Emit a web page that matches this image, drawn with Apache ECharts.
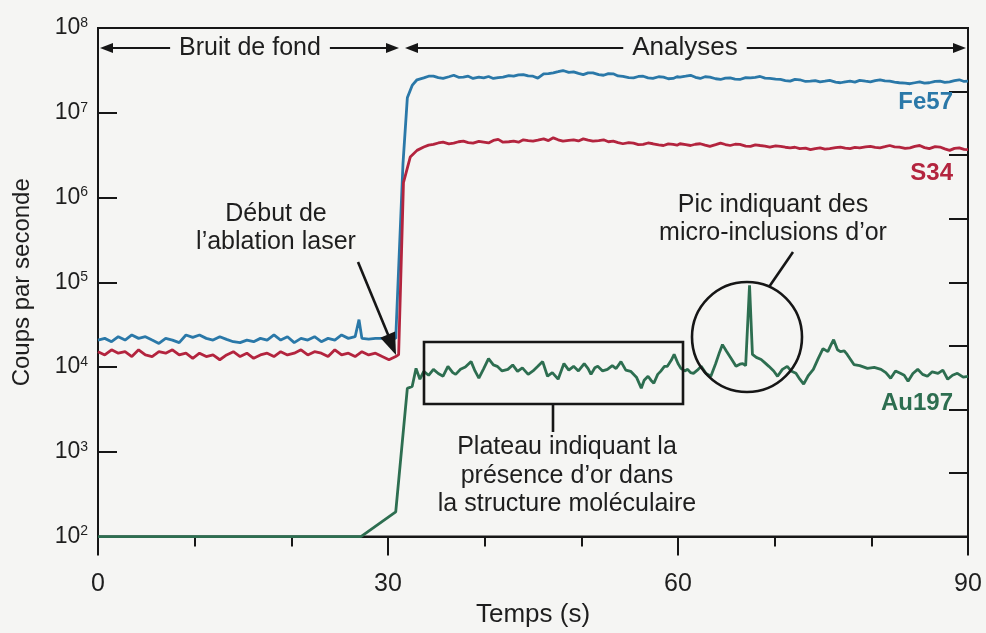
<!DOCTYPE html>
<html><head><meta charset="utf-8">
<script src="https://cdn.jsdelivr.net/npm/echarts@6/dist/echarts.min.js"></script>
<style>html,body{margin:0;padding:0;background:#f5f5f3;}#c{width:986px;height:633px;}</style>
</head><body><div id="c"></div>
<script>
// ---- data (time in s, counts per second) ----
const xMajorTicks = [0, 30, 60, 90];
const yDecades = [2, 3, 4, 5, 6, 7, 8];
const seriesNames = ['Fe57', 'S34', 'Au197'];

const fe57 = [
[0,20800],[0.7,21800],[1.4,19900],[2.1,22800],[2.8,20800],[3.5,23900],[4.2,21800],[4.9,22800],[5.6,20800],[6.3,19000],
[7.0,21800],[7.7,20800],[8.4,19400],[9.1,23900],[9.8,22400],[10.5,23900],[11.2,21800],[11.9,20800],[12.6,22800],[13.3,21200],
[14.0,19900],[14.7,19400],[15.4,20800],[16.1,19900],[16.8,21800],[17.5,20800],[18.2,23900],[18.9,20800],[19.6,22800],[20.3,19400],
[21.0,21800],[21.7,20800],[22.4,22800],[23.1,19900],[23.8,21800],[24.5,20800],[25.2,23900],[25.9,21800],[26.6,22800],[27.0,36300],
[27.3,21800],[28.0,21400],[28.7,21800],[29.4,21800],[30.1,22200],[30.8,21800],
[31.0,23000],[31.55,2.5e6],[32.0,1.5e7],[32.5,2.1e7],[33.0,2.45e7],[33.7,2.58e7],
[34.2,2.70e7],[34.7,2.70e7],[35.2,2.60e7],[35.7,2.54e7],[36.3,2.66e7],[36.8,2.77e7],[37.3,2.62e7],[37.8,2.63e7],[38.3,2.70e7],[38.8,2.54e7],
[39.4,2.64e7],[39.9,2.58e7],[40.4,2.68e7],[40.9,2.54e7],[41.4,2.60e7],[41.9,2.63e7],[42.5,2.74e7],[43.0,2.70e7],[43.5,2.80e7],[44.0,2.82e7],
[44.5,2.72e7],[45.0,2.70e7],[45.5,2.56e7],[46.1,2.88e7],[46.6,2.90e7],[47.1,2.96e7],[47.6,3.05e7],[48.1,3.15e7],[48.7,3.00e7],[49.2,3.04e7],
[49.7,2.92e7],[50.2,2.82e7],[50.7,2.95e7],[51.2,2.96e7],[51.8,2.82e7],[52.3,2.77e7],[52.8,2.90e7],[53.3,2.88e7],[53.8,2.72e7],[54.3,2.68e7],
[54.9,2.60e7],[55.4,2.58e7],[55.9,2.68e7],[56.4,2.70e7],[56.9,2.58e7],[57.4,2.54e7],[58.0,2.66e7],[58.5,2.63e7],[59.0,2.52e7],[59.5,2.54e7],
[59.9,2.66e7],[60.2,2.63e7],[60.8,2.70e7],[61.3,2.77e7],[61.8,2.62e7],[62.3,2.54e7],[62.8,2.66e7],[63.3,2.63e7],[63.9,2.52e7],[64.4,2.47e7],
[64.9,2.56e7],[65.4,2.58e7],[65.9,2.50e7],[66.4,2.47e7],[67.0,2.60e7],[67.5,2.58e7],[68.0,2.62e7],[68.5,2.68e7],[69.0,2.56e7],[69.5,2.54e7],
[70.1,2.50e7],[70.6,2.47e7],[71.1,2.40e7],[71.6,2.36e7],[72.1,2.48e7],[72.6,2.45e7],[73.2,2.34e7],[73.7,2.36e7],[74.2,2.40e7],[74.7,2.32e7],
[75.2,2.36e7],[75.7,2.41e7],[76.3,2.30e7],[76.8,2.26e7],[77.3,2.32e7],[77.8,2.36e7],[78.3,2.30e7],[78.8,2.41e7],[79.4,2.36e7],[79.9,2.32e7],
[80.4,2.40e7],[80.9,2.45e7],[81.4,2.38e7],[81.9,2.36e7],[82.4,2.30e7],[82.9,2.26e7],[83.5,2.24e7],[84.0,2.20e7],[84.5,2.26e7],[85.0,2.32e7],
[85.5,2.24e7],[86.0,2.26e7],[86.6,2.34e7],[87.1,2.36e7],[87.6,2.28e7],[88.1,2.32e7],[88.6,2.40e7],[89.1,2.45e7],[89.6,2.34e7],[90.0,2.36e7]
];

const s34 = [
[0,15200],[0.7,13900],[1.4,16000],[2.1,14600],[2.8,15200],[3.5,13300],[4.2,16000],[4.9,13900],[5.6,13300],[6.3,15200],
[7.0,14600],[7.7,16000],[8.4,13900],[9.1,14600],[9.8,12700],[10.5,14600],[11.2,13300],[11.9,13900],[12.6,12200],[13.3,13900],
[14.0,15200],[14.7,13300],[15.4,14600],[16.1,12700],[16.8,13900],[17.5,14600],[18.2,13300],[18.9,15200],[19.6,13900],[20.3,14600],
[21.0,16000],[21.7,13900],[22.4,15200],[23.1,14600],[23.8,13300],[24.5,16000],[25.2,13900],[25.9,14600],[26.6,13300],[27.3,15200],
[28.0,13900],[28.7,14600],[29.4,13300],[30.1,12200],[30.8,13300],
[31.1,14000],[31.6,1.5e6],[32.3,3.0e6],[33.0,3.6e6],[33.7,3.94e6],
[34.2,4.15e6],[34.7,4.23e6],[35.2,4.40e6],[35.7,4.50e6],[36.3,4.30e6],[36.8,4.38e6],[37.3,4.55e6],[37.8,4.62e6],[38.3,4.45e6],[38.8,4.38e6],
[39.4,4.60e6],[39.9,4.50e6],[40.4,4.40e6],[40.9,4.71e6],[41.4,4.85e6],[41.9,4.50e6],[42.5,4.55e6],[43.0,4.62e6],[43.5,4.50e6],[44.0,4.80e6],
[44.5,4.70e6],[45.0,4.62e6],[45.5,4.75e6],[46.1,4.92e6],[46.6,4.70e6],[47.1,5.06e6],[47.6,4.80e6],[48.1,4.62e6],[48.7,4.72e6],[49.2,4.80e6],
[49.7,4.65e6],[50.2,4.92e6],[50.7,4.75e6],[51.2,4.62e6],[51.8,4.70e6],[52.3,4.80e6],[52.8,4.55e6],[53.3,4.62e6],[53.8,4.45e6],[54.3,4.31e6],
[54.9,4.45e6],[55.4,4.38e6],[55.9,4.20e6],[56.4,4.23e6],[56.9,4.40e6],[57.4,4.31e6],[58.0,4.18e6],[58.5,4.11e6],[59.0,4.30e6],[59.5,4.23e6],
[59.9,4.15e6],[60.2,4.31e6],[60.8,4.20e6],[61.3,4.11e6],[61.8,4.25e6],[62.3,4.31e6],[62.8,4.15e6],[63.3,4.01e6],[63.9,4.20e6],[64.4,4.38e6],
[64.9,4.22e6],[65.4,4.11e6],[65.9,4.25e6],[66.4,4.23e6],[67.0,4.05e6],[67.5,4.01e6],[68.0,4.18e6],[68.5,4.11e6],[69.0,4.05e6],[69.5,3.94e6],
[70.1,4.08e6],[70.6,4.01e6],[71.1,3.92e6],[71.6,3.86e6],[72.1,3.92e6],[72.6,3.77e6],[73.2,3.82e6],[73.7,3.67e6],[74.2,3.78e6],[74.7,3.86e6],
[75.2,3.72e6],[75.7,3.77e6],[76.3,3.88e6],[76.8,3.94e6],[77.3,3.82e6],[77.8,3.77e6],[78.3,3.90e6],[78.8,3.86e6],[79.4,3.95e6],[79.9,4.01e6],
[80.4,3.90e6],[80.9,3.86e6],[81.4,3.98e6],[81.9,4.11e6],[82.4,3.96e6],[82.9,3.94e6],[83.5,3.80e6],[84.0,3.86e6],[84.5,4.02e6],[85.0,4.11e6],
[85.5,3.88e6],[86.0,3.77e6],[86.6,3.98e6],[87.1,3.94e6],[87.6,3.75e6],[88.1,3.60e6],[88.6,3.80e6],[89.1,3.86e6],[89.6,3.70e6],[90.0,3.67e6]
];

const au197 = [
[0,100],[27.2,100],[30.8,196],[32.0,5600],[32.5,5900],[32.9,9650],[33.3,7200],[33.7,8900],[34.2,8000],[34.7,9400],
[35.2,8400],[35.7,7800],[36.2,10200],[36.7,8600],[37.0,8200],[37.5,9400],[38.0,10000],[38.6,11600],[39.0,9000],[39.4,7400],
[39.9,9600],[40.4,12600],[40.9,10600],[41.3,10200],[41.8,9000],[42.4,9400],[42.9,10600],[43.4,8900],[43.9,9800],[44.5,8200],
[45.0,9000],[45.5,10200],[46.0,11600],[46.5,7800],[47.0,8600],[47.6,7200],[48.2,11000],[48.7,9200],[49.2,10200],[49.7,9000],
[50.3,11000],[50.7,9600],[51.0,8200],[51.4,9800],[51.7,10200],[52.2,9000],[52.7,9400],[53.2,10400],[53.6,9600],[54.1,11600],
[54.6,9200],[55.1,8900],[55.7,7600],[56.2,5640],[56.5,7000],[56.9,7800],[57.2,7000],[57.5,6450],[57.9,8200],[58.2,8900],
[58.6,10200],[58.9,10200],[59.3,12000],[59.6,14100],[60.0,11000],[60.3,9650],[60.7,9000],[61.0,9400],[61.3,8600],[61.6,8440],
[62.0,9200],[62.4,10200],[62.9,8400],[63.4,7780],[63.9,11000],[64.3,15000],[64.6,18400],[65.0,15500],[65.5,12600],[66.0,10200],
[66.4,10800],[66.7,11000],[67.0,10400],[67.2,10200],[67.4,92000],[67.7,14100],[68.1,13000],[68.6,12300],[69.0,11200],[69.4,10200],
[69.9,9000],[70.3,7780],[70.8,9400],[71.3,10200],[71.7,9000],[72.2,8440],[72.6,7200],[73.0,6280],[73.5,8000],[74.0,9400],
[74.5,12600],[75.0,16500],[75.5,15200],[75.8,18000],[76.1,21000],[76.5,16000],[76.8,15200],[77.2,15500],[77.5,14100],[78.2,10700],
[78.8,10400],[79.6,9650],[80.3,9900],[81.0,9400],[81.5,8600],[82.0,7380],[82.5,9000],[83.0,8440],[83.4,8000],[83.8,6800],
[84.3,8400],[84.8,9400],[85.3,8200],[85.8,7780],[86.3,8800],[86.9,8440],[87.4,9200],[87.9,7180],[88.4,8000],[88.9,8440],
[89.5,7600],[90.0,7780]
];

const seriesData = [fe57, s34, au197];
const seriesColors = ['#2a78a8', '#b3243e', '#2d6e50'];

// ---- chart ----
const FONT = '"Liberation Sans", Arial, Helvetica, sans-serif';
const INK = '#161616';
const BG = '#f5f5f3';
const chart = echarts.init(document.getElementById('c'), null, {renderer: 'canvas'});

function arrowHead(tip, from, len, hw) {
  const dx = tip[0] - from[0], dy = tip[1] - from[1];
  const d = Math.hypot(dx, dy), ux = dx / d, uy = dy / d;
  const bx = tip[0] - ux * len, by = tip[1] - uy * len;
  return { type: 'polygon', z: 100, shape: { points: [[tip[0], tip[1]], [bx - uy * hw, by + ux * hw], [bx + uy * hw, by - ux * hw]] }, style: { fill: INK } };
}
function seg(x1, y1, x2, y2, w) {
  return { type: 'line', z: 100, shape: { x1, y1, x2, y2 }, style: { stroke: INK, lineWidth: w || 2 } };
}
function label(x, y, text, size, extra) {
  return { type: 'text', z: 101, style: Object.assign({ x, y, text, fill: '#1e1e1e', font: size + 'px ' + FONT, align: 'center', verticalAlign: 'middle', lineHeight: 28 }, extra || {}) };
}

const ARROW_Y = 48;
const graphics = [
  seg(104, ARROW_Y, 392, ARROW_Y, 2),
  arrowHead([100, ARROW_Y], [130, ARROW_Y], 13, 5),
  arrowHead([399, ARROW_Y], [370, ARROW_Y], 13, 5),
  label(250, ARROW_Y, 'Bruit de fond', 25, { backgroundColor: BG, padding: [0, 9, 0, 9] }),
  seg(410, ARROW_Y, 960, ARROW_Y, 2),
  arrowHead([405, ARROW_Y], [430, ARROW_Y], 13, 5),
  arrowHead([966, ARROW_Y], [940, ARROW_Y], 13, 5),
  label(685, ARROW_Y, 'Analyses', 26, { backgroundColor: BG, padding: [0, 9, 0, 9] }),
  label(276, 228, 'Début de\nl’ablation laser', 25),
  seg(358, 262, 389, 337, 2.6),
  arrowHead([396, 355], [358, 262], 22, 8),
  { type: 'rect', z: 100, shape: { x: 424, y: 342, width: 259, height: 62 }, style: { fill: 'none', stroke: INK, lineWidth: 2.6 } },
  seg(553, 404, 553, 432, 2.6),
  label(567, 476, 'Plateau indiquant la\nprésence d’or dans\nla structure moléculaire', 25, { lineHeight: 28.5 }),
  { type: 'circle', z: 100, shape: { cx: 747, cy: 337, r: 55 }, style: { fill: 'none', stroke: INK, lineWidth: 2.6 } },
  seg(769, 287, 793, 252, 2.6),
  label(773, 219, 'Pic indiquant des\nmicro-inclusions d’or', 25),
  label(953, 102, 'Fe57', 24, { align: 'right', fill: seriesColors[0], font: 'bold 24px ' + FONT }),
  label(953, 173, 'S34', 24, { align: 'right', fill: seriesColors[1], font: 'bold 24px ' + FONT }),
  label(953, 403, 'Au197', 24, { align: 'right', fill: seriesColors[2], font: 'bold 24px ' + FONT })
];

const axisLineStyle = { color: INK, width: 2 };

const option = {
  backgroundColor: BG,
  animation: false,
  textStyle: { fontFamily: FONT },
  grid: { left: 98, right: 18, top: 28, bottom: 91, show: true, borderColor: INK, borderWidth: 2, backgroundColor: 'transparent' },
  xAxis: [
    {
      type: 'value', min: 0, max: 90, interval: 30, position: 'bottom',
      axisLine: { show: true, onZero: false, lineStyle: axisLineStyle },
      axisTick: { show: true, inside: false, length: 19, lineStyle: axisLineStyle },
      splitLine: { show: false },
      axisLabel: { show: true, margin: 48, color: '#1e1e1e', fontSize: 25, fontFamily: FONT, verticalAlign: 'middle',
        formatter: v => xMajorTicks.includes(v) ? String(v) : '' },
      name: 'Temps (s)', nameLocation: 'middle', nameGap: 78,
      nameTextStyle: { fontSize: 26, color: '#1e1e1e', fontFamily: FONT, verticalAlign: 'middle' }
    },
    {
      type: 'value', min: 0, max: 90, interval: 10, position: 'bottom',
      axisLine: { show: false, onZero: false },
      axisTick: { show: true, inside: false, length: 10, lineStyle: axisLineStyle },
      splitLine: { show: false },
      axisLabel: { show: false }
    }
  ],
  yAxis: [
    {
      type: 'log', logBase: 10, min: 100, max: 1e8, splitNumber: 6, position: 'left',
      axisLine: { show: true, onZero: false, lineStyle: axisLineStyle },
      axisTick: { show: true, inside: true, length: 19, lineStyle: axisLineStyle },
      splitLine: { show: false },
      axisLabel: {
        show: true, margin: 10,
        formatter: v => {
          const e = Math.round(Math.log10(v));
          return yDecades.includes(e) ? '{b|10}{s|' + e + '}' : '';
        },
        rich: {
          b: { fontSize: 23, fontFamily: FONT, color: '#1e1e1e', lineHeight: 24, verticalAlign: 'middle' },
          s: { fontSize: 14, fontFamily: FONT, color: '#1e1e1e', lineHeight: 14, padding: [0, 0, 26, 0], verticalAlign: 'top' }
        }
      },
      name: 'Coups par seconde', nameLocation: 'middle', nameGap: 76, nameRotate: 90,
      nameTextStyle: { fontSize: 24, color: '#1e1e1e', fontFamily: FONT, verticalAlign: 'middle' }
    },
    {
      type: 'value', min: 0, max: 8, interval: 1, position: 'right',
      axisLine: { show: true, onZero: false, lineStyle: axisLineStyle },
      axisTick: { show: true, inside: true, length: 19, lineStyle: axisLineStyle },
      splitLine: { show: false },
      axisLabel: { show: false }
    }
  ],
  series: seriesNames.map((name, i) => ({
    name, type: 'line', xAxisIndex: 0, yAxisIndex: 0,
    data: seriesData[i], showSymbol: false, symbol: 'none', clip: false,
    lineStyle: { color: seriesColors[i], width: 2.8 }, z: 3 + i
  })),
  graphic: graphics
};
chart.setOption(option);
</script>
</body></html>
